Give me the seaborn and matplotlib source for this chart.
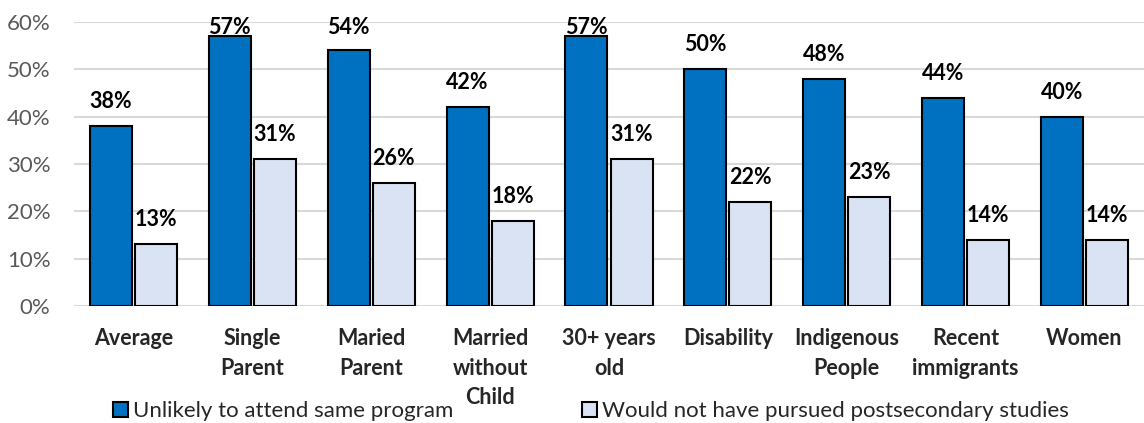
import matplotlib
matplotlib.use("Agg")
import matplotlib.pyplot as plt
import seaborn as sns
import pandas as pd
from matplotlib.ticker import FuncFormatter

categories = ["Average", "Single\nParent", "Maried\nParent", "Married\nwithout\nChild",
              "30+ years\nold", "Disability", "Indigenous\nPeople", "Recent\nimmigrants", "Women"]
series_names = ["Unlikely to attend same program",
                "Would not have pursued postsecondary studies"]
unlikely_same = [38, 57, 54, 42, 57, 50, 48, 44, 40]
not_pursued = [13, 31, 26, 18, 31, 22, 23, 14, 14]
y_ticks = [0, 10, 20, 30, 40, 50, 60]

df = pd.DataFrame({
    "group": categories * 2,
    "series": [series_names[0]] * len(categories) + [series_names[1]] * len(categories),
    "value": unlikely_same + not_pursued,
})

sns.set_theme(style="white")
plt.rcParams["font.family"] = ["Lato", "DejaVu Sans"]

W, H = 1144, 423
left_px, zero_px, top_px = 74, 306, 22
fig = plt.figure(figsize=(W / 100, H / 100), dpi=100)
ax = fig.add_axes([left_px / W, (H - zero_px) / H, 1 - left_px / W, (zero_px - top_px) / H])

palette = {series_names[0]: "#0070C0", series_names[1]: "#DAE3F3"}
sns.barplot(data=df, x="group", y="value", hue="series", order=categories,
            hue_order=series_names, palette=palette, width=0.76, gap=0.07,
            edgecolor="black", linewidth=1.5, saturation=1, ax=ax, zorder=3)

ax.set_ylim(0, 60)
ax.set_xlim(-0.5, len(categories) - 0.5)
ax.set_yticks(y_ticks)
ax.yaxis.set_major_formatter(FuncFormatter(lambda v, _: f"{v:.0f}%"))
ax.grid(axis="y", color="#D9D9D9", linewidth=1.5, zorder=0)
ax.set_axisbelow(True)
for s in ax.spines.values():
    s.set_visible(False)
ax.set_xlabel("")
ax.set_ylabel("")
ax.tick_params(axis="y", length=0, pad=17, labelsize=16, labelcolor="#595959")
ax.tick_params(axis="x", length=0, pad=16, labelsize=15.5)
for lbl in ax.get_xticklabels():
    lbl.set_fontweight("bold")
    lbl.set_linespacing(1.5)
    lbl.set_verticalalignment("top")

# value labels above each bar, kept inside the plot top
for cont in ax.containers:
    for bar in cont:
        h = bar.get_height()
        ax.text(bar.get_x() + bar.get_width() / 2, min(h + 5.2, 58.9), f"{h:.0f}%",
                ha="center", va="center", fontsize=15.5, fontweight="bold",
                color="black", clip_on=False)

legend_cx = (591 - left_px) / (W - left_px)
legend_cy = -(411 - zero_px) / (zero_px - top_px)
sns.move_legend(ax, "center", bbox_to_anchor=(legend_cx, legend_cy),
                ncol=2, frameon=False, title=None, fontsize=16,
                handlelength=0.68, handleheight=0.68, handletextpad=0.2,
                columnspacing=5.8, borderpad=0, borderaxespad=0)

fig.savefig("out.png", dpi=100)
